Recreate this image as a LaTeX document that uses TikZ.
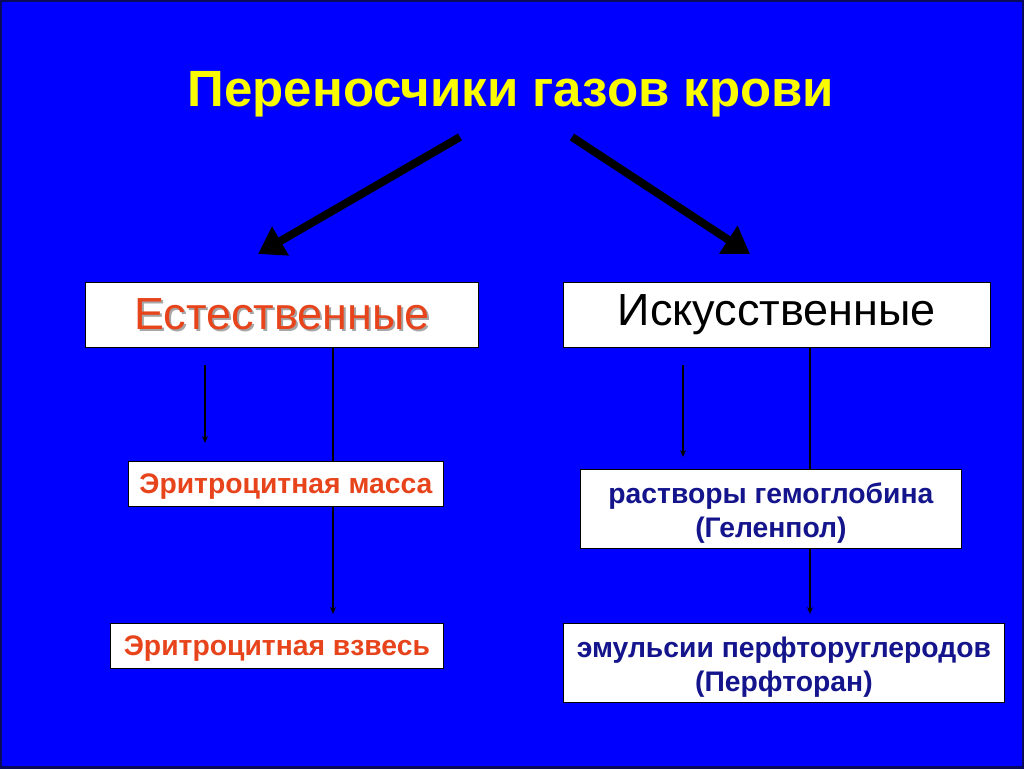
\documentclass[tikz,border=0pt]{standalone}
\usepackage{fontspec}
\setmainfont{Liberation Sans}
\usetikzlibrary{arrows.meta,calc}
\definecolor{bgblue}{RGB}{0,0,255}
\definecolor{edgeblue}{RGB}{10,10,90}
\definecolor{titleyellow}{RGB}{250,250,0}
\definecolor{natred}{RGB}{232,68,28}
\definecolor{navytext}{RGB}{20,20,140}
\newcommand\shadowtext[1]{\rlap{\hspace{2pt}\raisebox{-2pt}{\textcolor{black!35}{#1}}}#1}
\tikzset{
  whitebox/.style={draw=black, line width=0.8pt, fill=white, inner sep=0pt, anchor=north west},
  bigarrow/.style={line width=8pt, draw=black, -{Triangle[length=26pt,width=32pt]}},
  thinarrow/.style={line width=1.4pt, draw=black, -{Stealth[length=7pt,width=6pt]}},
}
\begin{document}
\begin{tikzpicture}[x=1pt,y=-1pt]
\useasboundingbox (0,0) rectangle (1024,768);
\fill[bgblue] (0,0) rectangle (1024,768);
\draw[edgeblue,line width=4pt] (0,0) rectangle (1024,768);

\node[text=titleyellow, font=\bfseries\fontsize{51}{58}\selectfont] (title) at (511,94) {Переносчики газов крови};

\coordinate (la) at (460,137);
\coordinate (lb) at (258,254);
\coordinate (ra) at (572,137);
\coordinate (rb) at (750,254);
\draw[bigarrow] (la) -- (lb);
\draw[bigarrow] (ra) -- (rb);

\node[whitebox, minimum width=393pt, minimum height=65pt] (nat) at (85,282) {};
\node[text=natred, font=\fontsize{45}{50}\selectfont] (natt) at (nat.center) {\shadowtext{Естественные}};
\node[whitebox, minimum width=427pt, minimum height=65pt] (art) at (563,282) {};
\node[text=black, font=\fontsize{45}{50}\selectfont] (artt) at (art.center) {Искусственные};

\coordinate (n1a) at (205,365);
\coordinate (n1b) at (205,443);
\coordinate (n2b) at (333,614);
\coordinate (a1a) at (683,365);
\coordinate (a1b) at (683,457);
\coordinate (a2b) at (810,614);
\draw[thinarrow] (n1a) -- (n1b);
\draw[thinarrow] (nat.south -| n2b) -- (n2b);
\draw[thinarrow] (a1a) -- (a1b);
\draw[thinarrow] (art.south -| a2b) -- (a2b);

\node[whitebox, minimum width=315pt, minimum height=45pt] (mass) at (128,461) {};
\node[text=natred, font=\bfseries\fontsize{28.3}{33}\selectfont] (masst) at ($(mass.center)+(0,3)$) {Эритроцитная масса};
\node[whitebox, minimum width=333pt, minimum height=45pt] (vzv) at (110,623) {};
\node[text=natred, font=\bfseries\fontsize{28.3}{33}\selectfont] (vzvt) at ($(vzv.center)+(0,3)$) {Эритроцитная взвесь};

\node[whitebox, minimum width=381pt, minimum height=79pt] (rast) at (580,469) {};
\node[text=navytext, font=\bfseries\fontsize{28.3}{34}\selectfont, align=center] (rastt) at ($(rast.center)+(0,4)$) {растворы гемоглобина\\(Геленпол)};
\node[whitebox, minimum width=441pt, minimum height=79pt] (emul) at (563,623) {};
\node[text=navytext, font=\bfseries\fontsize{28.3}{34}\selectfont, align=center] (emult) at ($(emul.center)+(0,4)$) {эмульсии перфторуглеродов\\(Перфторан)};
\end{tikzpicture}
\end{document}
